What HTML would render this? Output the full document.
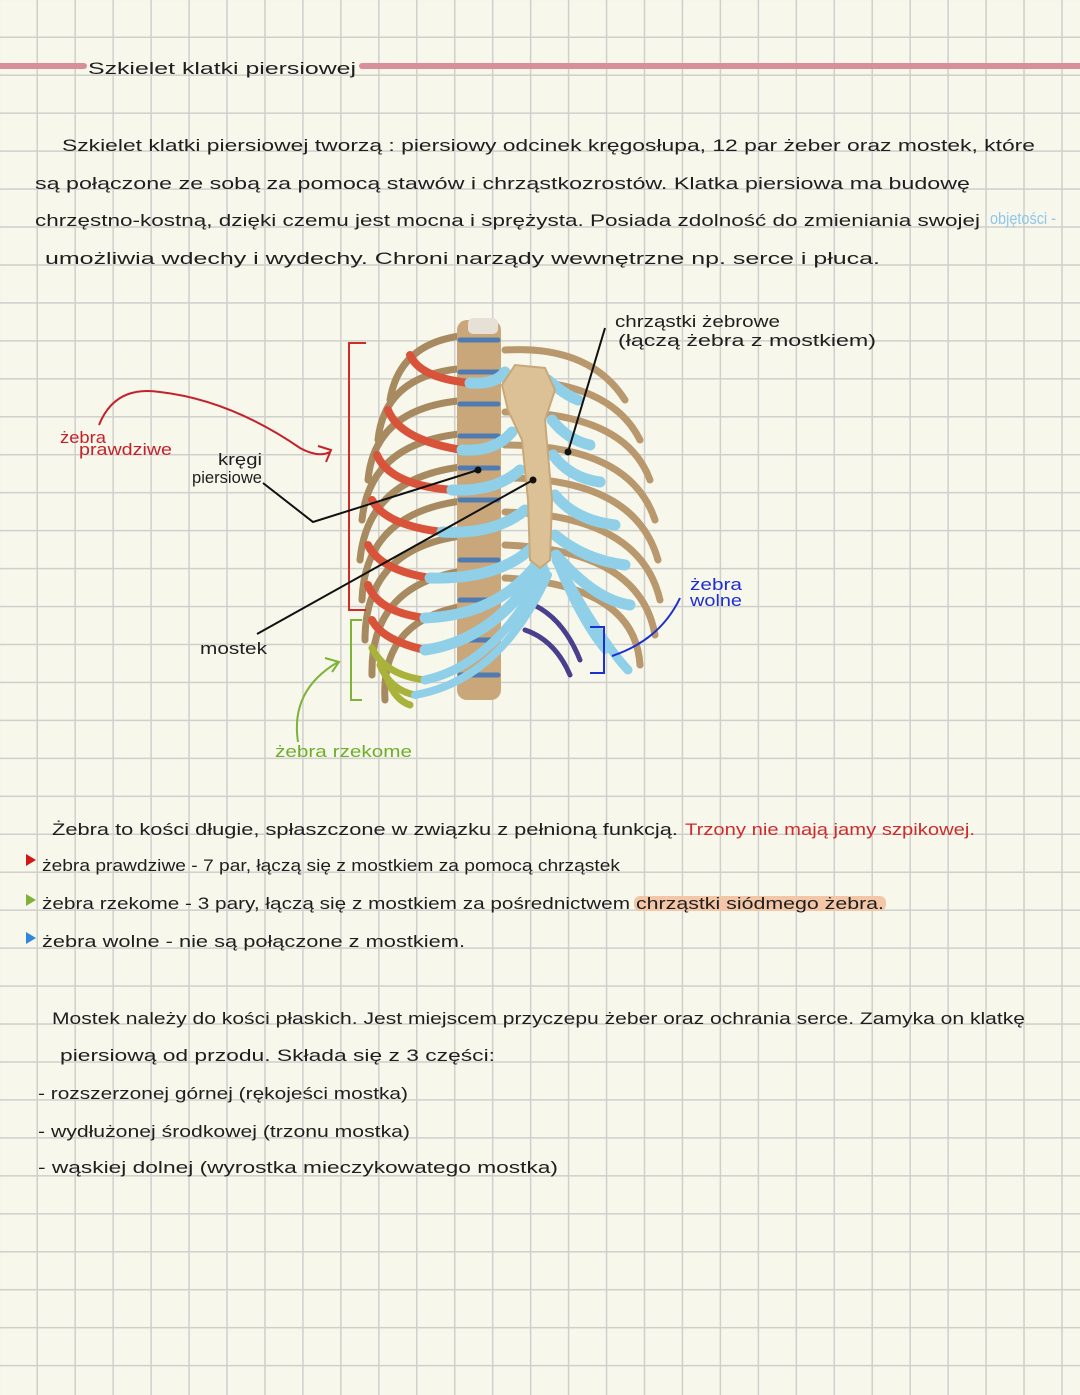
<!DOCTYPE html>
<html><head><meta charset="utf-8"><style>
html,body{margin:0;padding:0;background:#f7f7ec}
body{width:1080px;height:1395px;
background-color:#f7f7ec;
background-image:linear-gradient(to right,#cfcfcc 1.5px,transparent 1.5px),linear-gradient(to bottom,#cfcfcc 1.5px,transparent 1.5px);
background-size:37.96px 37.96px;background-position:36.5px 36.5px}
svg{display:block}
text{font-family:"Liberation Sans",sans-serif;font-size:17px;fill:#1e1e1e}
</style></head><body>
<svg width="1080" height="1395" viewBox="0 0 1080 1395" xmlns="http://www.w3.org/2000/svg">

<!-- title -->
<line x1="0" y1="66" x2="84" y2="66" stroke="#d98f9a" stroke-width="6" stroke-linecap="round"/>
<line x1="362" y1="66" x2="1080" y2="66" stroke="#d98f9a" stroke-width="6" stroke-linecap="round"/>
<text x="88" y="74" font-size="21" textLength="268" lengthAdjust="spacingAndGlyphs">Szkielet klatki piersiowej</text>

<!-- paragraph -->
<text x="62" y="151" textLength="973" lengthAdjust="spacingAndGlyphs">Szkielet klatki piersiowej tworzą : piersiowy odcinek kręgosłupa, 12 par żeber oraz mostek, które</text>
<text x="35" y="189" textLength="935" lengthAdjust="spacingAndGlyphs">są połączone ze sobą za pomocą stawów i chrząstkozrostów. Klatka piersiowa ma budowę</text>
<text x="35" y="226" textLength="945" lengthAdjust="spacingAndGlyphs">chrzęstno-kostną, dzięki czemu jest mocna i sprężysta. Posiada zdolność do zmieniania swojej</text>
<text x="990" y="224" font-size="14" style="fill:#8fc6ec" textLength="66" lengthAdjust="spacingAndGlyphs">objętości -</text>
<text x="45" y="264" textLength="835" lengthAdjust="spacingAndGlyphs">umożliwia wdechy i wydechy. Chroni narządy wewnętrzne np. serce i płuca.</text>

<!-- ribcage illustration -->
<g fill="none" stroke-linecap="round">
  <g stroke="#b8986c" stroke-width="7">
    <path d="M505 350 Q590 345 625 400"/>
    <path d="M505 380 Q610 380 640 440"/>
    <path d="M505 412 Q625 412 650 480"/>
    <path d="M505 445 Q630 445 655 520"/>
    <path d="M505 478 Q635 478 658 560"/>
    <path d="M505 512 Q640 515 660 600"/>
    <path d="M505 545 Q640 550 655 635"/>
    <path d="M505 578 Q635 585 640 665"/>
  </g>
  <g stroke="#a88a60" stroke-width="7">
    <path d="M470 335 Q400 340 390 400"/>
    <path d="M470 368 Q385 372 378 440"/>
    <path d="M470 400 Q375 405 368 480"/>
    <path d="M470 433 Q370 440 362 520"/>
    <path d="M470 466 Q368 475 360 560"/>
    <path d="M470 500 Q365 510 362 600"/>
    <path d="M470 535 Q365 545 365 640"/>
    <path d="M470 570 Q370 582 372 675"/>
    <path d="M470 605 Q380 618 385 700"/>
  </g>
  <rect x="457" y="320" width="44" height="380" rx="10" fill="#c9a77a" stroke="none"/>
  <g stroke="#4f7bb0" stroke-width="5">
    <path d="M460 340H498M460 372H498M460 404H498M460 436H498M460 468H498M460 500H498M460 560H498M460 600H498M460 640H498M460 675H498"/>
  </g>
  <rect x="468" y="318" width="30" height="16" rx="5" fill="#e6e0d6" stroke="none"/>
  <path d="M520 600 Q560 610 580 660" stroke="#4a3f8c" stroke-width="5"/>
  <path d="M525 630 Q555 640 570 675" stroke="#4a3f8c" stroke-width="5"/>
  <g stroke="#d9533a" stroke-width="8">
    <path d="M410 355 Q420 378 470 383"/>
    <path d="M388 410 Q400 440 462 450"/>
    <path d="M377 455 Q390 485 452 490"/>
    <path d="M372 500 Q385 525 442 532"/>
    <path d="M368 545 Q380 570 430 578"/>
    <path d="M368 585 Q378 612 425 618"/>
    <path d="M372 620 Q382 640 425 650"/>
  </g>
  <g stroke="#a9b23a" stroke-width="7">
    <path d="M372 648 Q385 675 425 680"/>
    <path d="M380 665 Q390 690 415 695"/>
    <path d="M388 680 Q395 700 410 705"/>
  </g>
  <g stroke="#8fd0e8" stroke-width="11">
    <path d="M470 383 Q495 385 505 372"/>
    <path d="M462 450 Q495 452 512 432"/>
    <path d="M452 490 Q495 492 520 470"/>
    <path d="M442 532 Q495 535 525 510"/>
    <path d="M430 578 Q500 580 535 545"/>
    <path d="M425 618 Q500 615 540 560"/>
    <path d="M425 650 Q495 640 542 565"/>
    <path d="M425 680 Q495 665 545 570" stroke-width="9"/>
    <path d="M415 695 Q500 680 548 575" stroke-width="8"/>
  </g>
  <g stroke="#8fd0e8" stroke-width="11">
    <path d="M548 380 Q565 395 578 400"/>
    <path d="M552 420 Q568 440 590 445"/>
    <path d="M553 455 Q570 478 600 482"/>
    <path d="M555 495 Q575 520 615 525"/>
    <path d="M555 535 Q585 560 625 565"/>
    <path d="M556 555 Q595 600 630 605"/>
    <path d="M556 560 Q600 640 628 670" stroke-width="9"/>
    <path d="M556 560 Q580 620 605 650" stroke-width="8"/>
  </g>
  <path d="M502 385 L515 365 L545 368 L555 390 L545 420 L552 500 L550 560 L540 568 L530 560 L528 500 L522 440 L508 410 Z" fill="#dcc197" stroke="#c8a878" stroke-width="2"/>
</g>

<!-- brackets -->
<path d="M366 343 H349 V610 H366" fill="none" stroke="#d02b2b" stroke-width="2"/>
<path d="M362 620 H351 V700 H362" fill="none" stroke="#7fb23a" stroke-width="2"/>
<path d="M590 627 H604 V673 H590" fill="none" stroke="#1d2fd0" stroke-width="2"/>

<!-- leader lines -->
<path d="M263 483 L313 522 L478 470" fill="none" stroke="#111" stroke-width="2"/>
<circle cx="478" cy="470" r="3.5" fill="#111"/>
<path d="M257 634 L533 480" fill="none" stroke="#111" stroke-width="2"/>
<circle cx="533" cy="480" r="3.5" fill="#111"/>
<path d="M605 328 L568 452" fill="none" stroke="#111" stroke-width="2"/>
<circle cx="568" cy="452" r="3.5" fill="#111"/>
<path d="M99 425 Q115 385 160 392 Q230 400 300 448 Q318 458 330 452 M318 446 L331 450 L326 462" fill="none" stroke="#c4222a" stroke-width="2"/>
<path d="M298 742 Q290 690 338 662 M325 658 L339 662 L332 672" fill="none" stroke="#7fb23a" stroke-width="2"/>
<path d="M612 656 Q660 640 680 598" fill="none" stroke="#1d2fd0" stroke-width="2"/>

<!-- labels -->
<text x="615" y="327" font-size="15" textLength="165" lengthAdjust="spacingAndGlyphs">chrząstki żebrowe</text>
<text x="618" y="346" font-size="15" textLength="258" lengthAdjust="spacingAndGlyphs">(łączą żebra z mostkiem)</text>
<text x="60" y="443" font-size="15" style="fill:#c4222a" textLength="46" lengthAdjust="spacingAndGlyphs">żebra</text>
<text x="79" y="455" font-size="15" style="fill:#c4222a" textLength="93" lengthAdjust="spacingAndGlyphs">prawdziwe</text>
<text x="218" y="465" font-size="14" textLength="44" lengthAdjust="spacingAndGlyphs">kręgi</text>
<text x="192" y="483" font-size="14" textLength="70" lengthAdjust="spacingAndGlyphs">piersiowe</text>
<text x="200" y="654" font-size="15" textLength="67" lengthAdjust="spacingAndGlyphs">mostek</text>
<text x="690" y="590" font-size="14" style="fill:#1d2fd0" textLength="52" lengthAdjust="spacingAndGlyphs">żebra</text>
<text x="690" y="606" font-size="14" style="fill:#1d2fd0" textLength="52" lengthAdjust="spacingAndGlyphs">wolne</text>
<text x="275" y="757" font-size="17" style="fill:#6fae2a" textLength="137" lengthAdjust="spacingAndGlyphs">żebra rzekome</text>

<!-- ribs section -->
<text x="52" y="835" textLength="626" lengthAdjust="spacingAndGlyphs">Żebra to kości długie, spłaszczone w związku z pełnioną funkcją.</text>
<text x="685" y="835" style="fill:#d02b2b" textLength="290" lengthAdjust="spacingAndGlyphs">Trzony nie mają jamy szpikowej.</text>
<path d="M26 854 L36 860 L26 866 Z" fill="#d01818"/>
<text x="42" y="871" textLength="578" lengthAdjust="spacingAndGlyphs">żebra prawdziwe - 7 par, łączą się z mostkiem za pomocą chrząstek</text>
<path d="M26 894 L36 900 L26 906 Z" fill="#7fb23a"/>
<text x="42" y="909" textLength="588" lengthAdjust="spacingAndGlyphs">żebra rzekome - 3 pary, łączą się z mostkiem za pośrednictwem</text>
<rect x="634" y="896" width="252" height="15" rx="6" fill="#f3c6a8"/>
<text x="636" y="909" textLength="248" lengthAdjust="spacingAndGlyphs">chrząstki siódmego żebra.</text>
<path d="M26 932 L36 938 L26 944 Z" fill="#2f86e0"/>
<text x="42" y="947" textLength="423" lengthAdjust="spacingAndGlyphs">żebra wolne - nie są połączone z mostkiem.</text>

<!-- sternum section -->
<text x="52" y="1024" textLength="973" lengthAdjust="spacingAndGlyphs">Mostek należy do kości płaskich. Jest miejscem przyczepu żeber oraz ochrania serce. Zamyka on klatkę</text>
<text x="60" y="1061" textLength="435" lengthAdjust="spacingAndGlyphs">piersiową od przodu. Składa się z 3 części:</text>
<text x="38" y="1099" textLength="370" lengthAdjust="spacingAndGlyphs">- rozszerzonej górnej (rękojeści mostka)</text>
<text x="38" y="1137" textLength="372" lengthAdjust="spacingAndGlyphs">- wydłużonej środkowej (trzonu mostka)</text>
<text x="38" y="1173" textLength="520" lengthAdjust="spacingAndGlyphs">- wąskiej dolnej (wyrostka mieczykowatego mostka)</text>
</svg>
</body></html>
